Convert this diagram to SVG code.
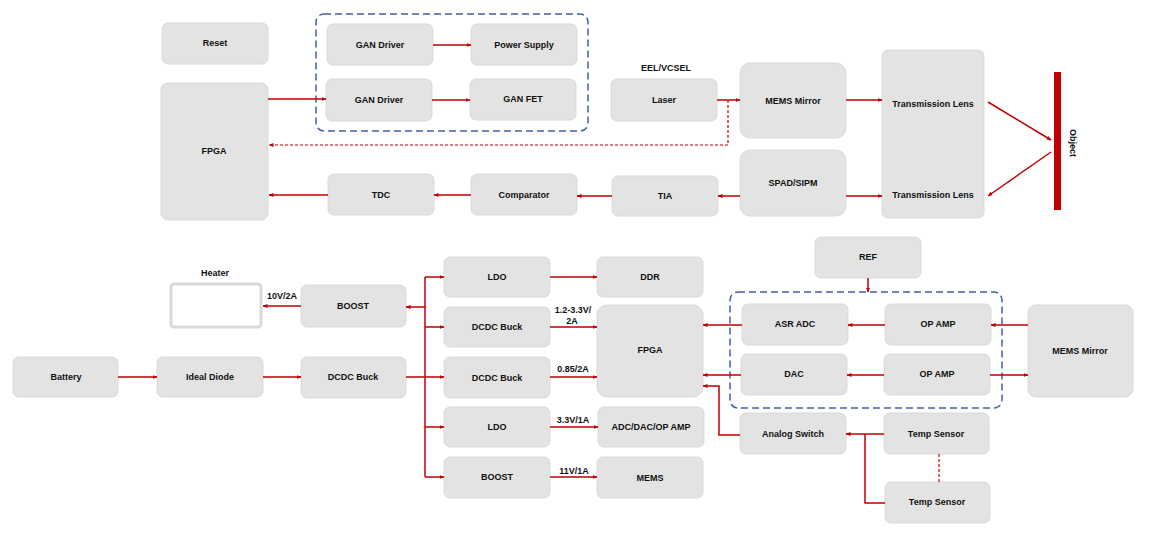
<svg xmlns="http://www.w3.org/2000/svg" width="1153" height="533" viewBox="0 0 1153 533">
<defs>
<style>
.b{fill:#e3e3e3;stroke:#dadada;stroke-width:1}
.t{font-family:"Liberation Sans",Arial,sans-serif;font-size:9px;font-weight:bold;fill:#111;text-anchor:middle}
.c{fill:none;stroke:#c00000;stroke-width:1.5}
.cd{fill:none;stroke:#c00000;stroke-width:1.2;stroke-dasharray:3,2}
.g{fill:none;stroke:#4060a8;stroke-width:1.5;stroke-dasharray:7,4}
</style>
<marker id="a" viewBox="0 0 10 10" refX="9" refY="5" markerWidth="5" markerHeight="5" orient="auto" markerUnits="userSpaceOnUse">
<path d="M0,1 L10,5 L0,9 Z" fill="#c00000"/>
</marker>
</defs>
<rect width="1153" height="533" fill="#fff"/>

<!-- group borders -->
<rect class="g" x="316" y="14" width="272" height="117" rx="8"/>
<rect class="g" x="730" y="292" width="272" height="116" rx="8"/>

<g id="reset"><rect class="b" x="162" y="23" width="106" height="41" rx="6"/><text class="t" x="215" y="46">Reset</text></g>
<g id="fpga1"><rect class="b" x="161" y="83" width="107" height="137" rx="7"/><text class="t" x="214" y="154">FPGA</text></g>
<g id="gan1"><rect class="b" x="327" y="24" width="106" height="41" rx="6"/><text class="t" x="380" y="48">GAN Driver</text></g>
<g id="ps"><rect class="b" x="471" y="24" width="106" height="41" rx="6"/><text class="t" x="524" y="48">Power Supply</text></g>
<g id="gan2"><rect class="b" x="326" y="79" width="106" height="42" rx="6"/><text class="t" x="379" y="103">GAN Driver</text></g>
<g id="ganfet"><rect class="b" x="470" y="79" width="106" height="41" rx="6"/><text class="t" x="523" y="102">GAN FET</text></g>
<g id="tdc"><rect class="b" x="328" y="174" width="106" height="41" rx="6"/><text class="t" x="381" y="198">TDC</text></g>
<g id="comp"><rect class="b" x="471" y="174" width="106" height="41" rx="6"/><text class="t" x="524" y="198">Comparator</text></g>
<g id="laser"><text class="t" x="666" y="71">EEL/VCSEL</text><rect class="b" x="611" y="79" width="106" height="42" rx="6"/><text class="t" x="664" y="103">Laser</text></g>
<g id="mems1"><rect class="b" x="740" y="63" width="106" height="75" rx="10"/><text class="t" x="793" y="104">MEMS Mirror</text></g>
<g id="tia"><rect class="b" x="612" y="176" width="106" height="40" rx="6"/><text class="t" x="665" y="199">TIA</text></g>
<g id="spad"><rect class="b" x="740" y="150" width="106" height="66" rx="10"/><text class="t" x="793" y="186">SPAD/SIPM</text></g>
<g id="tl"><rect class="b" x="882" y="50" width="102" height="168" rx="6"/><text class="t" x="933" y="107">Transmission Lens</text><text class="t" x="933" y="198">Transmission Lens</text></g>
<g id="object"><rect x="1054" y="72" width="7" height="138" fill="#c00000"/><text class="t" transform="translate(1070,143) rotate(90)">Object</text></g>

<g id="heater"><text class="t" x="215" y="276">Heater</text><rect x="171" y="284" width="90" height="43" rx="3" fill="#fff" stroke="#d9d9d9" stroke-width="3"/></g>
<g id="boost1"><rect class="b" x="301" y="285" width="105" height="42" rx="6"/><text class="t" x="353" y="309">BOOST</text></g>
<g id="battery"><rect class="b" x="13" y="357" width="105" height="40" rx="6"/><text class="t" x="66" y="380">Battery</text></g>
<g id="diode"><rect class="b" x="157" y="357" width="106" height="40" rx="6"/><text class="t" x="210" y="380">Ideal Diode</text></g>
<g id="buck0"><rect class="b" x="301" y="357" width="105" height="41" rx="6"/><text class="t" x="353" y="380">DCDC Buck</text></g>
<g id="ldo1"><rect class="b" x="444" y="257" width="106" height="40" rx="6"/><text class="t" x="497" y="280">LDO</text></g>
<g id="buck1"><rect class="b" x="444" y="307" width="106" height="40" rx="6"/><text class="t" x="497" y="330">DCDC Buck</text></g>
<g id="buck2"><rect class="b" x="444" y="357" width="106" height="41" rx="6"/><text class="t" x="497" y="381">DCDC Buck</text></g>
<g id="ldo2"><rect class="b" x="444" y="407" width="106" height="40" rx="6"/><text class="t" x="497" y="430">LDO</text></g>
<g id="boost2"><rect class="b" x="444" y="457" width="106" height="41" rx="6"/><text class="t" x="497" y="480">BOOST</text></g>
<g id="ddr"><rect class="b" x="597" y="257" width="106" height="40" rx="6"/><text class="t" x="650" y="280">DDR</text></g>
<g id="fpga2"><rect class="b" x="597" y="305" width="106" height="92" rx="10"/><text class="t" x="650" y="353">FPGA</text></g>
<g id="adc"><rect class="b" x="598" y="407" width="106" height="40" rx="6"/><text class="t" x="651" y="430">ADC/DAC/OP AMP</text></g>
<g id="mems2"><rect class="b" x="597" y="457" width="106" height="41" rx="6"/><text class="t" x="650" y="481">MEMS</text></g>
<g id="ref"><rect class="b" x="815" y="237" width="106" height="41" rx="6"/><text class="t" x="868" y="260">REF</text></g>
<g id="asradc"><rect class="b" x="742" y="304" width="106" height="41" rx="6"/><text class="t" x="795" y="327">ASR ADC</text></g>
<g id="opamp1"><rect class="b" x="885" y="304" width="106" height="41" rx="6"/><text class="t" x="938" y="327">OP AMP</text></g>
<g id="dac"><rect class="b" x="741" y="354" width="106" height="41" rx="6"/><text class="t" x="794" y="377">DAC</text></g>
<g id="opamp2"><rect class="b" x="884" y="354" width="106" height="41" rx="6"/><text class="t" x="937" y="377">OP AMP</text></g>
<g id="mems3"><rect class="b" x="1028" y="305" width="105" height="92" rx="8"/><text class="t" x="1080" y="354">MEMS Mirror</text></g>
<g id="aswitch"><rect class="b" x="740" y="413" width="106" height="41" rx="6"/><text class="t" x="793" y="437">Analog Switch</text></g>
<g id="temp1"><rect class="b" x="884" y="413" width="105" height="41" rx="6"/><text class="t" x="936" y="437">Temp Sensor</text></g>
<g id="temp2"><rect class="b" x="885" y="482" width="105" height="41" rx="6"/><text class="t" x="937" y="505">Temp Sensor</text></g>

<g id="connectors">
<path class="c" d="M268,99 H326" marker-end="url(#a)"/>
<path class="c" d="M433,45 H471" marker-end="url(#a)"/>
<path class="c" d="M432,100 H470" marker-end="url(#a)"/>
<path class="cd" d="M728,100 V145 H269" marker-end="url(#a)"/>
<path class="c" d="M717,100 H740" marker-end="url(#a)"/>
<path class="c" d="M846,100 H882" marker-end="url(#a)"/>
<path class="c" d="M988,102 L1051,140" marker-end="url(#a)"/>
<path class="c" d="M1051,152 L988,196" marker-end="url(#a)"/>
<path class="c" d="M846,196 H882" marker-end="url(#a)"/>
<path class="c" d="M740,196 H718" marker-end="url(#a)"/>
<path class="c" d="M612,196 H577" marker-end="url(#a)"/>
<path class="c" d="M471,195 H434" marker-end="url(#a)"/>
<path class="c" d="M328,195 H269" marker-end="url(#a)"/>

<path class="c" d="M301,306 H263" marker-end="url(#a)"/>
<path class="c" d="M118,377 H157" marker-end="url(#a)"/>
<path class="c" d="M263,377 H301" marker-end="url(#a)"/>
<path class="c" d="M406,377 H444" marker-end="url(#a)"/>
<path class="c" d="M425,277 V477"/>
<path class="c" d="M425,277 H444" marker-end="url(#a)"/>
<path class="c" d="M425,327 H444" marker-end="url(#a)"/>
<path class="c" d="M425,427 H444" marker-end="url(#a)"/>
<path class="c" d="M425,477 H444" marker-end="url(#a)"/>
<path class="c" d="M425,307 H406" marker-end="url(#a)"/>
<path class="c" d="M550,277 H597" marker-end="url(#a)"/>
<path class="c" d="M550,327 H597" marker-end="url(#a)"/>
<path class="c" d="M550,377 H597" marker-end="url(#a)"/>
<path class="c" d="M550,427 H598" marker-end="url(#a)"/>
<path class="c" d="M550,477 H597" marker-end="url(#a)"/>

<path class="c" d="M868,278 V292" marker-end="url(#a)"/>
<path class="c" d="M1028,325 H991" marker-end="url(#a)"/>
<path class="c" d="M885,325 H848" marker-end="url(#a)"/>
<path class="c" d="M742,325 H703" marker-end="url(#a)"/>
<path class="c" d="M884,375 H847" marker-end="url(#a)"/>
<path class="c" d="M741,375 H703" marker-end="url(#a)"/>
<path class="c" d="M990,375 H1028" marker-end="url(#a)"/>
<path class="c" d="M740,435 H719 V386 H703" marker-end="url(#a)"/>
<path class="c" d="M884,434 H846" marker-end="url(#a)"/>
<path class="c" d="M865,434 V503 H885"/>
<path class="cd" d="M939,454 V482"/>

<text class="t" x="282" y="299">10V/2A</text>
<text class="t" x="573" y="313">1.2-3.3V/</text>
<text class="t" x="572" y="324">2A</text>
<text class="t" x="573" y="372">0.85/2A</text>
<text class="t" x="573" y="423">3.3V/1A</text>
<text class="t" x="574" y="474">11V/1A</text>
</g>
</svg>
